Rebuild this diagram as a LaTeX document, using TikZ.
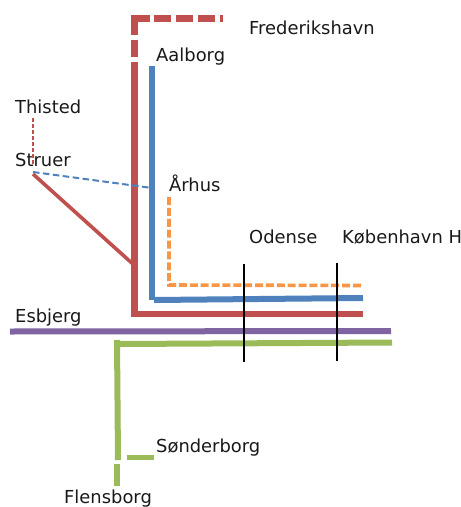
\documentclass[tikz,border=0pt]{standalone}
\usepackage{fontspec}
\setmainfont{DejaVu Sans}
\usetikzlibrary{positioning}
\definecolor{linered}{HTML}{C0504D}
\definecolor{lineblue}{HTML}{4F81BD}
\definecolor{lineorange}{HTML}{F79646}
\definecolor{linepurple}{HTML}{8064A2}
\definecolor{linegreen}{HTML}{9BBB59}
\begin{document}
\begin{tikzpicture}[x=1pt, y=-1pt,
	station/.style={anchor=base west, inner sep=0pt, font=\fontsize{17.9pt}{20pt}\selectfont, text=black!90},
	main/.style={line width=6pt},
	wide/.style={line width=6.7pt},
	thick line/.style={line width=2pt, draw=black}
	]
	\useasboundingbox (0,0) rectangle (461,507);

	\node (frederikshavn) [station] at (249,34.5) {Frederikshavn};
	\node (aalborg) [station] at (156,61) {Aalborg};
	\node (thisted) [station] at (15,113.5) {Thisted};
	\node (struer) [station] at (15,166) {Struer};
	\node (arhus) [station] at (169,191) {Århus};
	\node (odense) [station] at (249,243) {Odense};
	\node (kobenhavn) [station] at (342,243) {København H};
	\node (esbjerg) [station] at (15,322) {Esbjerg};
	\node (sonderborg) [station] at (156,452.5) {Sønderborg};
	\node (flensborg) [station] at (64,503.5) {Flensborg};

	\coordinate (redend) at (223,18.5);
	\coordinate (redcorner) at (134.3,18.5);
	\coordinate (reddash) at (134.3,57);
	\coordinate (redsplit) at (134.3,62);
	\coordinate (redbottom) at (134.3,317);
	\coordinate (redjoin) at (137,314);
	\coordinate (redeast) at (363,314);
	\coordinate (redbranch) at (134,265);
	\coordinate (thistedend) at (33,118);
	\coordinate (struerend) at (33,165);
	\coordinate (strueredge) at (33,174);
	\coordinate (struerblue) at (33,172);
	\coordinate (arhusblue) at (152,188);
	\coordinate (bluetop) at (152,66);
	\coordinate (bluebottom) at (152,300);
	\coordinate (bluejoin) at (154,300);
	\coordinate (blueeast) at (363,298);
	\coordinate (orangetop) at (169,197);
	\coordinate (orangecorner) at (169,285);
	\coordinate (orangeeast) at (361,285.5);
	\coordinate (purplewest) at (10,331.5);
	\coordinate (purpleeast) at (391,331);
	\coordinate (greentop) at (117,340);
	\coordinate (greenbend) at (118,460);
	\coordinate (greenlow) at (117,464);
	\coordinate (greenend) at (117,486);
	\coordinate (greenjoin) at (120,344);
	\coordinate (greeneast) at (392,342.5);
	\coordinate (stubwest) at (127,457.5);
	\coordinate (stubeast) at (154,457.5);
	\coordinate (odensetop) at (244,264);
	\coordinate (odensebottom) at (244,362);
	\coordinate (kobenhavntop) at (337,263);
	\coordinate (kobenhavnbottom) at (337,361);

	\draw [wide, linered, dash pattern=on 17pt off 4.8pt on 32pt off 4.8pt on 17pt off 4.8pt on 17pt off 4.8pt on 17pt off 4.8pt] (reddash) -- (redcorner) -- (redend);
	\draw [wide, linered] (redsplit) -- (redbottom);
	\draw [main, linered] (redjoin) -- (redeast);
	\draw [line width=3.6pt, linered] (strueredge) -- (redbranch);
	\draw [line width=2pt, linered, dash pattern=on 4pt off 2pt] (thistedend) -- (struerend);
	\draw [line width=2pt, lineblue, dash pattern=on 6.5pt off 3.5pt] (struerblue) -- (arhusblue);
	\draw [wide, lineblue] (bluetop) -- (bluebottom);
	\draw [main, lineblue] (bluejoin) -- (blueeast);
	\draw [line width=3.6pt, lineorange, dash pattern=on 8pt off 2.88pt] (orangetop) -- (orangecorner) -- (orangeeast);
	\draw [main, linepurple] (purplewest) -- (purpleeast);
	\draw [main, linegreen] (greentop) -- (greenbend);
	\draw [main, linegreen] (greenlow) -- (greenend);
	\draw [main, linegreen] (greenjoin) -- (greeneast);
	\draw [line width=5pt, linegreen] (stubwest) -- (stubeast);
	\draw [thick line] (odensetop) -- (odensebottom);
	\draw [thick line] (kobenhavntop) -- (kobenhavnbottom);

\end{tikzpicture}
\end{document}
